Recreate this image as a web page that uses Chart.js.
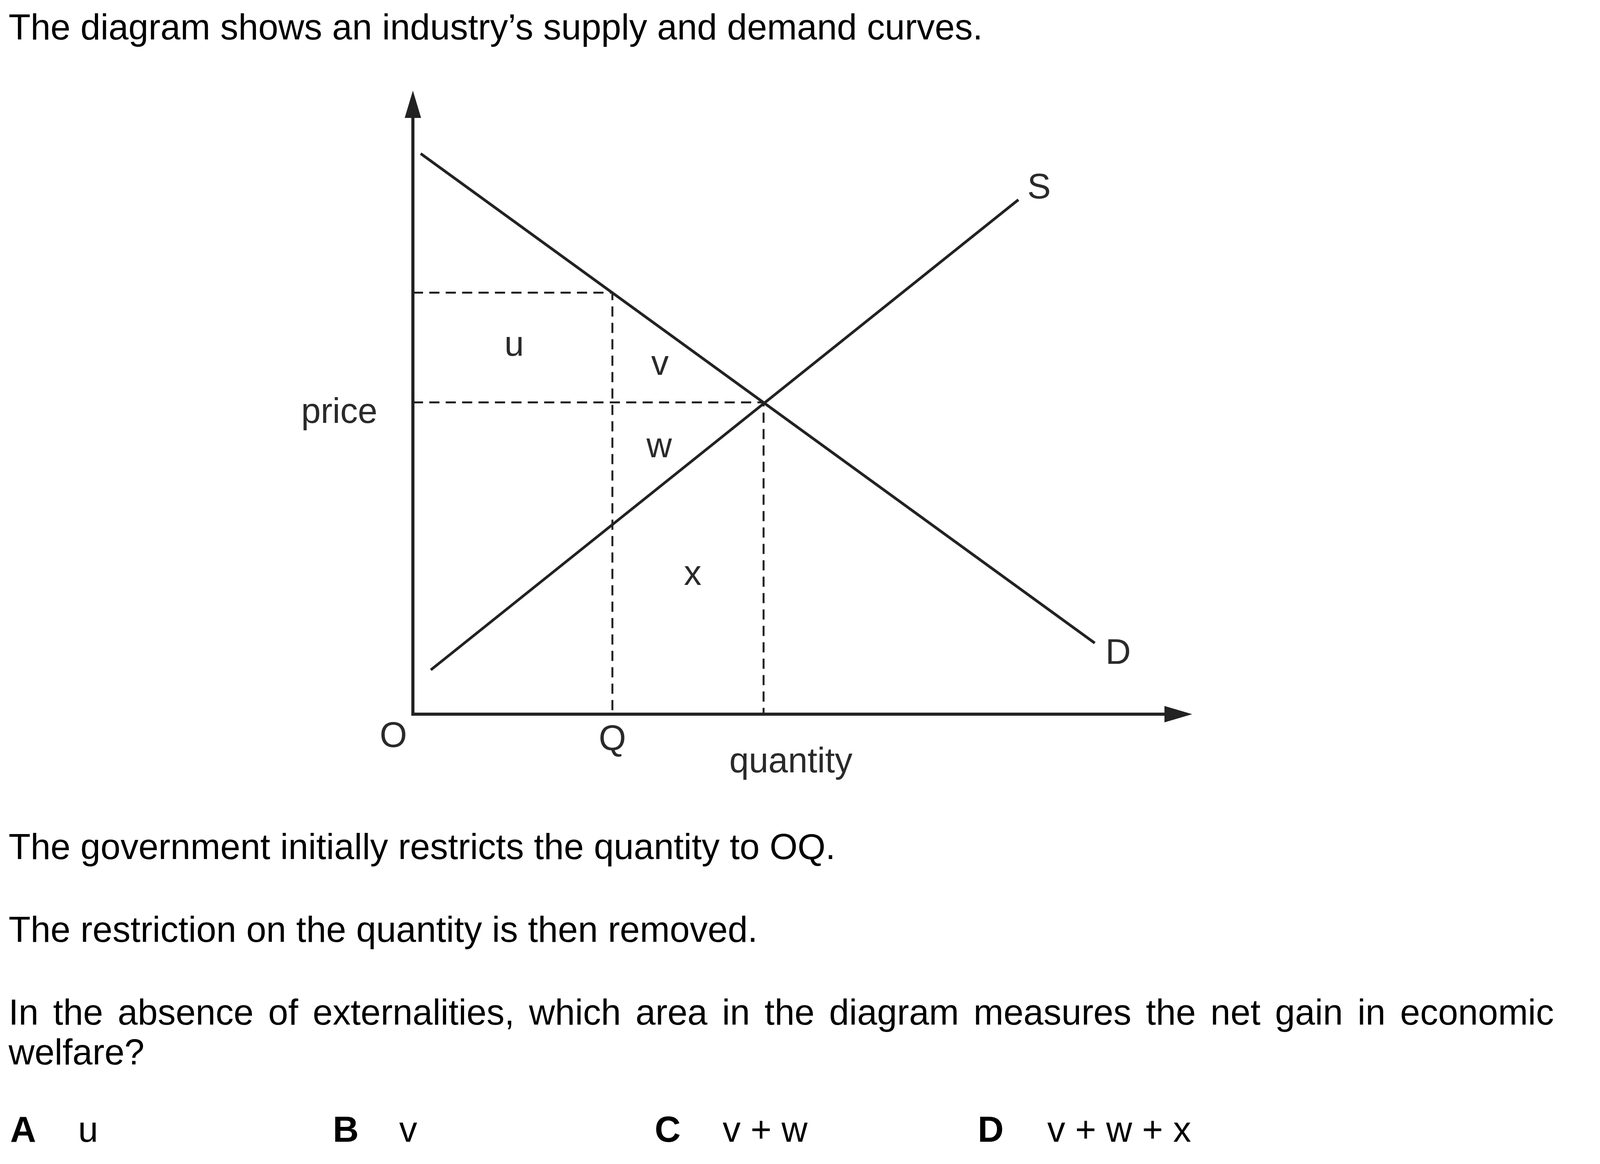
<!DOCTYPE html>
<html>
<head>
<meta charset="utf-8">
<script src="https://cdn.jsdelivr.net/npm/chart.js@4.4.1/dist/chart.umd.min.js"></script>
<style>
    html, body { margin: 0; padding: 0; background: #fff; }
    body {
        width: 4201px; height: 2981px; position: relative; overflow: hidden;
        font-family: "Liberation Sans", Arial, sans-serif; color: #000;
    }
    #chart { position: absolute; left: 0; top: 0; }
    .t { position: absolute; font-size: 92px; line-height: 102px; white-space: nowrap; }
    .justify { width: 3956px; text-align: justify; text-align-last: justify; white-space: normal; }
    .key { font-weight: bold; }
</style>
</head>
<body>
<canvas id="chart" width="4201" height="2981"></canvas>

<div class="t" style="left:22px; top:18px;">The diagram shows an industry’s supply and demand curves.</div>
<div class="t" style="left:22px; top:2117px;">The government initially restricts the quantity to OQ.</div>
<div class="t" style="left:22px; top:2329px;">The restriction on the quantity is then removed.</div>
<div class="t justify" style="left:22px; top:2541px;">In the absence of externalities, which area in the diagram measures the net gain in economic</div>
<div class="t" style="left:22px; top:2643px;">welfare?</div>

<div class="t key" style="left:26px; top:2841px;">A</div>
<div class="t" style="left:200px; top:2841px;">u</div>
<div class="t key" style="left:852px; top:2841px;">B</div>
<div class="t" style="left:1022px; top:2841px;">v</div>
<div class="t key" style="left:1676px; top:2841px;">C</div>
<div class="t" style="left:1850px; top:2841px;">v + w</div>
<div class="t key" style="left:2503px; top:2841px;">D</div>
<div class="t" style="left:2681px; top:2841px;">v + w + x</div>

<script>
    const demandQ = [1.0, 87.5];
    const demandP = [89.9, 11.4];
    const supplyQ = [2.3, 77.7];
    const supplyP = [7.1, 82.5];
    const restrictedQ = 25.6;   // OQ
    const restrictedP = 67.6;   // precio de demanda en OQ
    const equilibriumQ = 45.0;
    const equilibriumP = 50.0;

    const areaNames = ["u", "v", "w", "x"];
    const curveNames = ["S", "D"];

    const axisMax = 100;
    const inkColor = "#222";
    const labelFont = '90px "Liberation Sans", Arial, sans-serif';

    // Posiciones de las etiquetas (en unidades del diagrama)
    const areaAnchors = [[13.0, 57.5], [31.7, 54.4], [31.6, 41.2], [35.9, 20.7]];
    const curveAnchors = [[80.35, 82.7], [90.5, 8.1]];

    const toPoints = (qs, ps) => qs.map((q, i) => ({ x: q, y: ps[i] }));

    // Plugin para los ejes con flechas y las etiquetas del diagrama
    const diagramPlugin = {
        id: "diagram",
        beforeDatasetsDraw(chart) {
            const { ctx, scales: { x, y } } = chart;
            const ox = x.getPixelForValue(0);
            const oy = y.getPixelForValue(0);
            const xEnd = x.getPixelForValue(axisMax);
            const yEnd = y.getPixelForValue(axisMax);
            ctx.save();
            ctx.strokeStyle = inkColor;
            ctx.fillStyle = inkColor;
            ctx.lineWidth = 8;
            ctx.beginPath();
            ctx.moveTo(ox - 4, oy);
            ctx.lineTo(xEnd - 60, oy);
            ctx.moveTo(ox, oy + 4);
            ctx.lineTo(ox, yEnd + 60);
            ctx.stroke();
            // flechas
            ctx.beginPath();
            ctx.moveTo(xEnd, oy);
            ctx.lineTo(xEnd - 71, oy - 21);
            ctx.lineTo(xEnd - 71, oy + 21);
            ctx.closePath();
            ctx.fill();
            ctx.beginPath();
            ctx.moveTo(ox, yEnd);
            ctx.lineTo(ox - 21, yEnd + 70);
            ctx.lineTo(ox + 21, yEnd + 70);
            ctx.closePath();
            ctx.fill();
            ctx.restore();
        },
        afterDraw(chart) {
            const { ctx, scales: { x, y } } = chart;
            const ox = x.getPixelForValue(0);
            const oy = y.getPixelForValue(0);
            ctx.save();
            ctx.fillStyle = "#2a2a2a";
            ctx.font = labelFont;
            ctx.textBaseline = "alphabetic";
            ctx.textAlign = "center";
            areaNames.forEach((name, i) => {
                ctx.fillText(name, x.getPixelForValue(areaAnchors[i][0]), y.getPixelForValue(areaAnchors[i][1]));
            });
            curveNames.forEach((name, i) => {
                ctx.fillText(name, x.getPixelForValue(curveAnchors[i][0]), y.getPixelForValue(curveAnchors[i][1]));
            });
            ctx.fillText("O", ox - 50, oy + 84);
            ctx.fillText("Q", x.getPixelForValue(restrictedQ), oy + 92);
            ctx.fillText("quantity", x.getPixelForValue(48.5), oy + 149);
            ctx.textAlign = "right";
            ctx.fillText("price", ox - 91, y.getPixelForValue(46.7));
            ctx.restore();
        }
    };

    const solid = { borderColor: inkColor, borderWidth: 7, pointRadius: 0, showLine: true, borderCapStyle: "butt" };
    const dashed = { borderColor: inkColor, borderWidth: 5, pointRadius: 0, showLine: true, borderDash: [26, 16] };

    new Chart(document.getElementById("chart"), {
        type: "scatter",
        data: {
            datasets: [
                { label: "D", data: toPoints(demandQ, demandP), ...solid },
                { label: "S", data: toPoints(supplyQ, supplyP), ...solid },
                { label: "OQ", data: [{ x: 0, y: restrictedP }, { x: restrictedQ, y: restrictedP }, { x: restrictedQ, y: 0 }], ...dashed },
                { label: "equilibrio", data: [{ x: 0, y: equilibriumP }, { x: equilibriumQ, y: equilibriumP }, { x: equilibriumQ, y: 0 }], ...dashed }
            ]
        },
        options: {
            responsive: false,
            animation: false,
            devicePixelRatio: 1,
            layout: { padding: { left: 1057, right: 1149, top: 232, bottom: 1152 } },
            scales: {
                x: { type: "linear", min: 0, max: axisMax, display: false },
                y: { type: "linear", min: 0, max: axisMax, display: false }
            },
            plugins: { legend: { display: false }, tooltip: { enabled: false } },
            elements: { line: { tension: 0 } }
        },
        plugins: [diagramPlugin]
    });
</script>
</body>
</html>
